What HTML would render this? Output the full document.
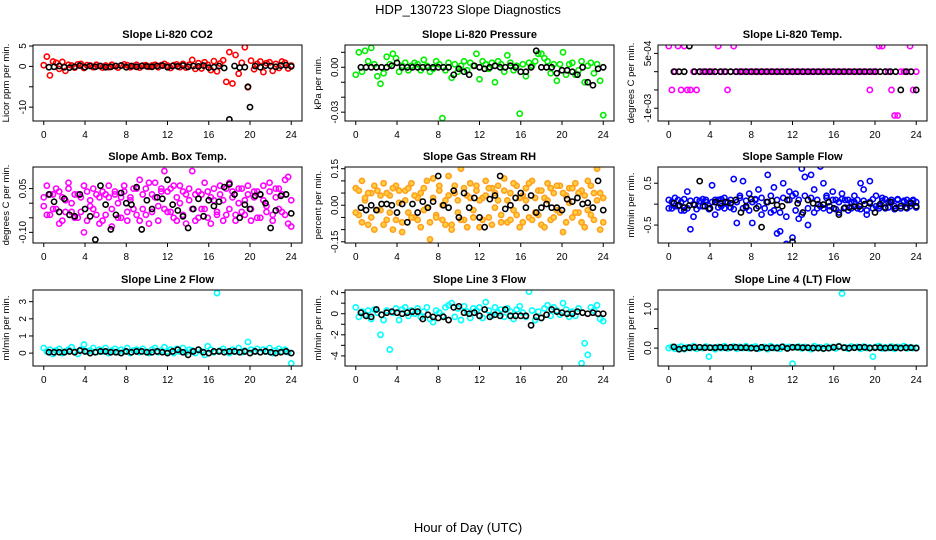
<!DOCTYPE html>
<html><head><meta charset="utf-8"><style>
html,body{margin:0;padding:0;background:#fff;}
svg{display:block;font-family:"Liberation Sans",Arial,sans-serif;}
</style></head><body>
<svg id="chart" width="936" height="540" viewBox="0 0 936 540">
<text x="468" y="14" text-anchor="middle" font-size="13">HDP_130723  Slope Diagnostics</text>
<text x="468" y="532" text-anchor="middle" font-size="13">Hour of Day (UTC)</text>
</svg>
<script>
const hoursA=[0,0.3,0.6,0.9,1.2,1.5,1.8,2.1,2.4,2.7,3,3.3,3.6,3.9,4.2,4.5,4.8,5.1,5.4,5.7,6,6.3,6.6,6.9,7.2,7.5,7.8,8.1,8.4,8.7,9,9.3,9.6,9.9,10.2,10.5,10.8,11.1,11.4,11.7,12,12.3,12.6,12.9,13.2,13.5,13.8,14.1,14.4,14.7,15,15.3,15.6,15.9,16.2,16.5,16.8,17.1,17.4,17.7,18,18.3,18.6,18.9,19.2,19.5,19.8,20.1,20.4,20.7,21,21.3,21.6,21.9,22.2,22.5,22.8,23.1,23.4,23.7,24];
const hoursB=[0.5,1,1.5,2,2.5,3,3.5,4,4.5,5,5.5,6,6.5,7,7.5,8,8.5,9,9.5,10,10.5,11,11.5,12,12.5,13,13.5,14,14.5,15,15.5,16,16.5,17,17.5,18,18.5,19,19.5,20,20.5,21,21.5,22,22.5,23,23.5,24];
const xTicks=[0,4,8,12,16,20,24];

const p1Col=[0.3,2.4,-2.2,1.2,0.9,-0.6,1.1,-1.1,0.4,0.2,-0.3,0.5,0.6,-0.4,0.3,0.2,-0.2,0.4,0.1,-0.3,0.2,-0.2,0.4,0.1,-0.3,0.2,0.5,0.3,-0.2,0.1,0.4,-0.3,0.2,0.3,-0.1,0.2,0.4,-0.2,0.3,0.6,0.2,-0.4,0.3,0.5,-0.2,0.6,-0.3,0.4,1.6,-0.6,0.8,-0.5,1.0,0.4,-0.9,1.3,-1.2,0.7,1.5,-3.8,3.5,-4.2,2.8,-1.8,0.9,4.7,-5.1,1.4,-0.7,0.6,1.2,-1.4,0.8,1.0,-1.1,0.6,-0.4,1.2,0.9,-0.5,0.2];
const p1Blk=[-0.2,-0.1,0.1,-0.2,-0.3,-0.1,0.2,-0.2,0.1,-0.1,0.1,-0.2,-0.1,0.1,0.2,-0.2,0.1,-0.1,0.1,0.0,-0.1,0.1,0.2,-0.2,0.1,0.0,0.2,-0.1,0.1,0.0,0.2,-0.3,-0.2,0.1,-0.4,-13,0.1,-0.3,-0.2,-10,0.1,-0.2,0.2,0.1,-0.1,0.2,0.3,0.0];
const p1BlkExtra=[[19.8,-5]];

const p2Col=[-0.005,0.01,-0.003,0.011,0.004,0.013,0.002,-0.006,-0.011,-0.004,0.007,0.002,0.009,0.006,-0.003,0.001,0.003,-0.002,0.001,0.003,0.002,-0.002,0.005,0.001,-0.003,-0.001,0.004,0.002,-0.034,-0.002,0.003,-0.007,0.002,-0.003,0.001,0.004,-0.002,0.003,0.001,0.009,-0.008,0.004,0.002,-0.001,0.003,-0.010,0.004,0.002,-0.003,0.008,0.003,-0.002,0.001,-0.031,0.002,-0.006,0.003,0.001,0.004,0.009,0.009,0.006,0.004,-0.004,0.002,-0.009,0.002,0.01,-0.005,0.002,0.003,-0.005,-0.002,0.004,-0.010,0.001,0.003,-0.004,0.002,-0.009,-0.032];
const p2Blk=[0,0,0,0,0,0,0.001,0.003,0,0,0,0,0,0,0,0,0,0,-0.005,-0.001,-0.003,-0.005,0.001,0,-0.001,0,0.001,0,0,0.001,0,-0.003,-0.003,0,0.011,0,0,0,-0.004,-0.002,-0.002,-0.003,-0.005,0,-0.010,-0.012,-0.001,0];

const p3Col=[7e-4,-5e-4,0,7e-4,-5e-4,7e-4,-5e-4,-5e-4,0,-5e-4,0,0,0,0,0,0,7e-4,0,0,-5e-4,0,7e-4,0,0,0,0,0,0,0,0,0,0,0,0,0,0,0,0,0,0,0,0,0,0,0,0,0,0,0,0,0,0,0,0,0,0,0,0,0,0,0,0,0,0,0,-5e-4,0,0,7e-4,7e-4,0,0,-5e-4,-1.2e-3,-1.2e-3,0,0,0,7e-4,-5e-4,0];
const p3Blk=[0,0,0,7e-4,0,0,0,0,0,0,0,0,0,0,0,0,0,0,0,0,0,0,0,0,0,0,0,0,0,0,0,0,0,0,0,0,0,0,0,0,0,0,0,0,-5e-4,0,0,-5e-4];

const p4ColA=[0.02,0.06,-0.04,0.03,-0.02,0.04,-0.06,0.01,0.05,-0.03,0.03,-0.05,0.02,-0.1,0.04,-0.01,0.05,-0.04,0.02,-0.06,0.03,0.06,-0.02,0.04,-0.05,0.02,0.06,-0.03,0.01,0.05,-0.04,0.08,-0.02,0.05,-0.07,0.03,0.07,-0.01,0.04,0.11,-0.03,0.05,-0.05,0.02,0.06,-0.04,0.03,0.01,0.11,-0.06,0.04,-0.02,0.07,-0.05,0.02,0.05,-0.03,0.06,0.01,-0.04,0.07,0.02,-0.04,0.05,-0.03,0.01,0.06,-0.02,0.04,-0.05,0.03,0.06,-0.01,0.07,-0.04,0.02,0.05,-0.03,0.08,-0.07,0.01];
const p4ColB=[-0.01,-0.04,0.03,-0.02,0.05,-0.07,0.02,-0.03,0.07,0.0,-0.05,0.03,-0.03,0.06,-0.06,0.01,-0.02,0.03,-0.07,0.04,-0.04,0.02,-0.08,0.03,0.0,-0.05,0.04,-0.06,0.02,-0.02,0.05,-0.06,0.03,-0.04,0.07,-0.03,0.02,-0.06,0.05,-0.02,0.04,-0.03,0.06,-0.06,0.0,0.04,-0.07,0.05,-0.02,0.03,-0.05,0.03,-0.02,0.04,-0.07,0.01,-0.04,0.03,-0.06,0.05,-0.02,0.04,-0.06,0.0,0.05,-0.04,0.03,-0.06,0.02,0.04,-0.05,0.01,-0.03,0.04,-0.06,0.05,-0.02,0.03,-0.04,0.09,-0.08];
const p4Blk=[0.03,0.005,-0.03,0.015,-0.04,-0.045,0.03,-0.02,-0.045,-0.125,0.06,-0.005,-0.09,-0.04,0.035,0.0,-0.005,0.055,-0.09,0.01,-0.02,0.02,0.015,0.08,-0.005,-0.025,-0.045,-0.085,-0.02,0.015,-0.045,0.01,-0.01,0.005,0.055,0.065,0.03,-0.05,-0.005,-0.02,0.025,0.03,0.0,-0.085,-0.025,0.025,0.03,-0.035];

const p5ColA=[0.07,-0.04,0.1,0.02,-0.08,0.05,-0.1,0.06,-0.02,0.09,-0.06,0.04,-0.1,0.08,0.01,-0.07,0.06,-0.03,0.09,-0.05,0.03,-0.09,0.07,-0.01,-0.14,0.11,-0.04,0.08,-0.06,0.02,0.12,-0.08,0.05,-0.03,0.15,-0.06,0.04,0.09,-0.02,0.06,-0.09,0.03,0.1,-0.05,0.07,-0.01,0.08,-0.04,0.11,-0.07,0.05,-0.02,0.08,-0.09,0.04,0.07,-0.05,0.1,-0.03,0.06,-0.08,0.03,0.09,-0.06,0.05,-0.02,0.08,-0.11,0.04,0.07,-0.05,0.09,-0.03,0.06,-0.09,0.1,-0.04,0.05,0.15,-0.1,0.03];
const p5ColB=[-0.03,0.06,-0.07,0.03,0.05,-0.05,0.08,-0.02,0.04,-0.08,0.05,-0.03,0.07,-0.06,0.06,-0.11,0.02,0.07,-0.05,0.04,-0.06,0.05,-0.02,0.1,-0.07,0.03,-0.05,0.06,0.0,-0.08,0.04,-0.1,0.08,0.02,-0.06,0.07,-0.09,0.03,-0.05,0.08,0.02,-0.06,0.04,0.07,-0.08,0.05,0.02,-0.07,0.06,0.02,-0.06,0.09,-0.04,0.03,-0.07,0.02,0.09,-0.06,0.03,-0.04,0.06,-0.09,0.02,0.07,-0.05,0.08,-0.03,0.05,-0.07,0.01,0.07,-0.03,0.05,-0.07,0.04,-0.02,0.08,-0.06,0.02,0.05,-0.07];
const p5Blk=[-0.01,-0.02,0.0,-0.02,0.005,0.005,0.0,-0.03,0.005,-0.07,0.005,-0.03,0.015,-0.01,0.015,0.12,0.0,-0.01,0.06,-0.05,0.05,-0.01,0.03,-0.05,-0.09,0.025,0.04,0.12,-0.015,0.0,0.03,0.05,-0.01,0.04,-0.03,-0.01,0.005,-0.01,-0.01,-0.02,0.025,0.015,0.03,0.005,0.01,-0.01,0.1,-0.02];

const p6ColA=[0.1,-0.1,0.15,-0.05,0.05,-0.15,0.3,-0.6,-0.3,0.1,-0.05,0.12,0.05,-0.1,0.45,-0.25,0.1,-0.05,0.15,0.05,-0.08,0.6,-0.45,0.2,0.55,-0.08,0.25,-0.45,0.1,0.35,-0.25,-1.0,0.7,-0.2,0.4,-0.7,-0.65,0.5,-0.95,0.3,-0.8,0.25,-0.35,0.85,0.65,-0.5,0.7,0.35,-0.1,0.9,0.5,0.2,-0.15,0.3,0.1,-0.2,0.25,0.1,-0.15,0.05,0.2,-0.1,0.5,0.35,-0.25,0.55,-0.1,0.2,-0.05,0.15,-0.1,0.05,0.1,-0.05,0.12,-0.1,0.05,0.1,-0.05,0.08,-0.08];
const p6ColB=[-0.1,0.05,-0.05,0.1,-0.15,0.12,-0.1,0.08,0.0,-0.12,0.08,-0.05,0.1,-0.12,0.05,0.1,-0.08,0.12,-0.1,0.03,0.1,-0.12,0.05,0.15,-0.1,0.08,-0.15,0.05,0.12,-0.05,0.15,-0.1,0.05,0.2,-0.15,0.1,-0.2,0.15,-0.3,0.1,0.2,-0.15,0.1,-0.25,0.2,-0.1,0.15,-0.2,0.1,-0.05,-0.1,0.15,-0.05,0.1,-0.12,0.05,0.12,-0.08,0.1,-0.1,0.05,0.1,-0.12,0.08,-0.15,0.05,0.12,-0.05,-0.1,0.08,0.12,-0.08,0.05,-0.12,0.1,-0.05,0.08,-0.1,0.05,0.1,0.05];
const p6Blk=[0.02,-0.03,-0.08,-0.03,-0.02,0.55,-0.05,-0.1,0.05,0.02,0.05,0.02,0.1,-0.2,-0.05,0.12,-0.1,-0.55,0.05,0.08,-0.02,-0.05,0.1,-0.9,0.02,-0.2,0.1,0.02,0.0,-0.01,0.05,-0.1,-0.25,-0.1,-0.08,-0.06,-0.05,0.0,0.02,-0.2,0.0,-0.08,0.05,-0.1,-0.05,-0.08,0.02,-0.05];

const p7Col=[0.3,0.1,0.2,-0.05,0.15,0.25,0.0,0.1,0.2,0.35,0.1,-0.05,0.2,0.5,0.1,0.15,0.3,0.05,0.2,0.1,0.3,0.0,0.15,0.25,0.05,0.2,0.1,0.3,0.0,0.15,0.2,0.05,0.25,0.1,0.0,0.2,0.3,0.05,0.15,0.35,0.1,0.2,0.0,0.25,0.1,0.3,0.05,0.2,0.15,0.0,0.2,0.1,-0.1,0.4,0.2,0.05,3.5,0.15,0.25,0.1,0.0,0.2,0.1,0.3,0.05,0.15,0.65,0.2,0.1,0.25,0.05,0.2,0.1,0.3,0.0,0.15,0.25,0.1,0.2,0.05,-0.6];
const p7Blk=[0.05,0.05,0.05,0.05,0.1,0.05,0.15,0.1,0.0,0.05,0.1,0.1,0.05,0.05,0.0,0.1,0.05,0.1,0.1,0.05,0.05,0.1,0.05,0.0,0.1,0.2,0.05,-0.1,0.1,0.2,0.05,0.0,0.1,0.1,0.05,0.1,0.1,0.05,0.1,0.0,0.1,0.05,0.1,0.05,0.0,0.05,0.1,0.0];

const p8Col=[0.6,-0.3,0.2,-0.1,0.3,-0.5,0.4,0.1,-2.0,-0.6,0.3,-3.4,0.1,0.5,-0.6,0.4,0.6,-0.2,0.3,0.0,0.5,-0.3,0.2,0.6,-0.5,-0.8,0.3,0.1,-0.2,0.6,0.8,1.0,-0.3,0.5,-0.6,0.7,0.2,-0.4,0.5,0.3,0.6,-0.4,1.1,0.3,-0.2,0.6,0.1,0.4,-0.3,0.5,0.2,-0.5,0.4,0.7,0.1,-0.3,2.1,0.3,-0.6,0.2,-0.4,0.5,0.8,-0.2,0.6,0.3,-0.1,1.0,0.4,-0.3,0.2,-0.2,0.5,-4.7,-2.8,-3.9,0.6,0.3,0.8,-0.5,-0.7];
const p8Blk=[0.1,-0.2,-0.3,0.4,-0.1,0.1,0.2,0.1,0.0,0.1,0.2,0.2,-0.5,-0.1,-0.3,-0.4,-0.3,-0.6,0.6,0.7,0.1,0.0,0.1,-0.2,0.4,-0.3,-0.1,-0.2,0.4,-0.2,-0.2,-0.2,-0.2,-1.1,-0.3,-0.4,-0.1,0.4,0.2,0.1,0.0,0.0,0.2,0.1,0.0,0.1,0.0,0.0];

const p9Col=[0.0,0.03,-0.02,0.01,0.04,-0.03,0.02,0.0,0.05,-0.02,0.02,0.0,0.04,-0.22,0.01,-0.03,0.03,0.0,0.05,-0.01,0.02,0.04,-0.02,0.03,0.0,0.05,-0.01,0.02,0.04,-0.02,0.01,0.03,-0.03,0.05,0.0,0.02,-0.02,0.04,0.01,0.03,-0.4,0.02,0.04,-0.01,0.03,0.0,-0.03,0.05,0.01,0.02,-0.02,0.04,0.0,0.03,-0.01,0.05,1.4,0.02,-0.02,0.04,0.01,0.03,-0.02,0.04,0.0,0.02,-0.22,0.03,0.05,-0.01,0.02,0.0,0.04,-0.02,0.03,0.01,0.05,-0.01,0.02,0.0,0.01];
const p9Blk=[0.03,-0.03,-0.01,0.01,0.02,0.02,0.01,0.01,0.01,0.02,0.01,0.02,0.02,0.01,0.01,0.0,-0.01,0.02,0.0,0.01,0.0,0.03,-0.01,0.02,0.02,0.01,0.01,0.0,0.0,-0.01,0.0,0.02,0.04,0.01,0.0,0.01,0.02,0.02,0.0,0.01,0.01,0.0,0.01,0.01,0.0,0.01,0.01,0.0];

const p1Ticks=[-10,-5,0,5], p1Labels=["-10","","0","5"];
const p2Ticks=[-0.03,-0.02,-0.01,0,0.01], p2Labels=["-0.03","","","0.00",""];
const p3Ticks=[-1e-3,-5e-4,0,5e-4], p3Labels=["-1e-03","","","5e-04"];
const p4Ticks=[-0.1,-0.05,0,0.05], p4Labels=["-0.10","","","0.05"];
const p5Ticks=[-0.15,-0.1,-0.05,0,0.05,0.1,0.15], p5Labels=["-0.15","","","0.00","","","0.15"];
const p6Ticks=[-0.5,0,0.5], p6Labels=["-0.5","","0.5"];
const p7Ticks=[0,1,2,3], p7Labels=["0","1","2","3"];
const p8Ticks=[-4,-3,-2,-1,0,1,2], p8Labels=["-4","","-2","","0","","2"];
const p9Ticks=[0,0.5,1.0], p9Labels=["0.0","","1.0"];

const NS="http://www.w3.org/2000/svg";
const svg=document.getElementById('chart');
function mk(tag,attrs,parent){const e=document.createElementNS(NS,tag);for(const k in attrs)e.setAttribute(k,attrs[k]);(parent||svg).appendChild(e);return e;}

const panels=[
 {name:'li820-co2',title:'Slope Li-820 CO2',ylab:'Licor ppm per min.',col:0,row:0,ymin:-13.4,ymax:5.25,ticks:p1Ticks,labels:p1Labels,color:'#ff0000',cols:[p1Col],blk:p1Blk,extra:p1BlkExtra},
 {name:'li820-pressure',title:'Slope Li-820 Pressure',ylab:'kPa per min.',col:1,row:0,ymin:-0.0359,ymax:0.0149,ticks:p2Ticks,labels:p2Labels,color:'#00ee00',cols:[p2Col],blk:p2Blk,extra:[]},
 {name:'li820-temp',title:'Slope Li-820 Temp.',ylab:'degrees C per min.',col:2,row:0,ymin:-1.35e-3,ymax:7.3e-4,ticks:p3Ticks,labels:p3Labels,color:'#ff00ff',cols:[p3Col],blk:p3Blk,extra:[]},
 {name:'amb-box-temp',title:'Slope Amb. Box Temp.',ylab:'degrees C per min.',col:0,row:1,ymin:-0.1365,ymax:0.124,ticks:p4Ticks,labels:p4Labels,color:'#ff00ff',cols:[p4ColA,p4ColB],blk:p4Blk,extra:[]},
 {name:'gas-stream-rh',title:'Slope Gas Stream RH',ylab:'percent per min.',col:1,row:1,ymin:-0.155,ymax:0.157,ticks:p5Ticks,labels:p5Labels,color:'#ffa020',fill:'#ffd040',cols:[p5ColA,p5ColB],blk:p5Blk,extra:[]},
 {name:'sample-flow',title:'Slope Sample Flow',ylab:'ml/min per min.',col:2,row:1,ymin:-0.929,ymax:0.888,ticks:p6Ticks,labels:p6Labels,color:'#0000ff',cols:[p6ColA,p6ColB],blk:p6Blk,extra:[]},
 {name:'line2-flow',title:'Slope Line 2 Flow',ylab:'ml/min per min.',col:0,row:2,ymin:-0.75,ymax:3.68,ticks:p7Ticks,labels:p7Labels,color:'#00ffff',cols:[p7Col],blk:p7Blk,extra:[]},
 {name:'line3-flow',title:'Slope Line 3 Flow',ylab:'ml/min per min.',col:1,row:2,ymin:-4.96,ymax:2.25,ticks:p8Ticks,labels:p8Labels,color:'#00ffff',cols:[p8Col],blk:p8Blk,extra:[]},
 {name:'line4-flow',title:'Slope Line 4 (LT) Flow',ylab:'ml/min per min.',col:2,row:2,ymin:-0.46,ymax:1.49,ticks:p9Ticks,labels:p9Labels,color:'#00ffff',cols:[p9Col],blk:p9Blk,extra:[]}
];
const lefts=[33,345,658], tops=[45,167,290], W=269, H=76;

panels.forEach(p=>{
  const L=lefts[p.col], T=tops[p.row];
  const g=mk('g',{});
  
  
  const xs=h=>L+W*(0.04+0.92*h/24);
  const ys=v=>T+H-(v-p.ymin)/(p.ymax-p.ymin)*H;
  const title=mk('text',{x:L+W/2,y:T-7,'text-anchor':'middle','font-size':11,'font-weight':'bold'},g);
  title.textContent=p.title;
  
  
  const xa=mk('g',{},g);
  
  
  mk('line',{x1:xs(0),x2:xs(24),y1:T+H,y2:T+H,stroke:'#000'},xa);
  xTicks.forEach(t=>{
    mk('line',{x1:xs(t),x2:xs(t),y1:T+H,y2:T+H+4,stroke:'#000'},xa);
    const tx=mk('text',{x:xs(t),y:T+H+17,'text-anchor':'middle','font-size':10},xa);
    tx.textContent=t;
    
    
  });
  const ya=mk('g',{},g);
  
  
  const t0=p.ticks[0], t1=p.ticks[p.ticks.length-1];
  mk('line',{x1:L,x2:L,y1:ys(t0),y2:ys(t1),stroke:'#000'},ya);
  p.ticks.forEach((t,i)=>{
    mk('line',{x1:L-4,x2:L,y1:ys(t),y2:ys(t),stroke:'#000'},ya);
    if(p.labels[i]){
      const tx=mk('text',{x:L-7,y:ys(t),'text-anchor':'middle','font-size':10,transform:`rotate(-90 ${L-7} ${ys(t)})`},ya);
      tx.textContent=p.labels[i];
      
      
    }
  });
  const yl=mk('text',{x:L-24,y:T+H/2,'text-anchor':'middle','font-size':9.5,transform:`rotate(-90 ${L-24} ${T+H/2})`},g);
  yl.textContent=p.ylab;
  
  
  const clip='clip-'+p.name;
  const cp=mk('clipPath',{id:clip},g); mk('rect',{x:L,y:T,width:W,height:H},cp);
  const pts=mk('g',{'clip-path':`url(#${clip})`},g);
  p.cols.forEach(arr=>{
    const n=Math.min(arr.length,hoursA.length);
    for(let i=0;i<n;i++){
      const c=mk('circle',{cx:xs(hoursA[i]),cy:ys(arr[i]),r:2.6,fill:p.fill||'none',stroke:p.color,'stroke-width':1.6},pts);
      
      
    }
  });
  const n=Math.min(p.blk.length,hoursB.length);
  for(let i=0;i<n;i++){
    const c=mk('circle',{cx:xs(hoursB[i]),cy:ys(p.blk[i]),r:2.6,fill:'none',stroke:'#000','stroke-width':1.6},pts);
    
    
  }
  p.extra.forEach(e=>{
    const c=mk('circle',{cx:xs(e[0]),cy:ys(e[1]),r:2.6,fill:'none',stroke:'#000','stroke-width':1.6},pts);
    
    
  });
  const box=mk('rect',{x:L,y:T,width:W,height:H,fill:'none',stroke:'#000'},g);
  
  
});
</script>
</body></html>
